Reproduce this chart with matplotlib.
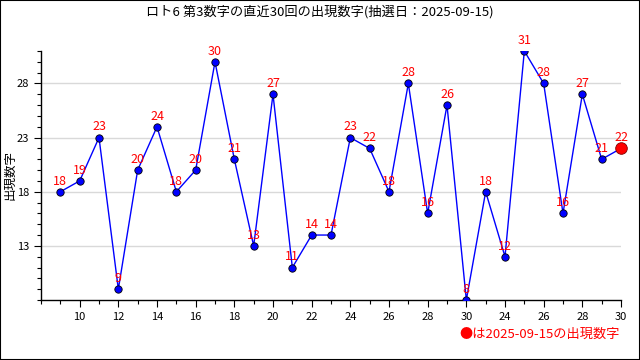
import numpy as np
import matplotlib
matplotlib.use("Agg")
import matplotlib.pyplot as plt
from matplotlib.ticker import MultipleLocator, FixedLocator

plt.rcParams['font.family'] = ['Noto Sans CJK JP', 'DejaVu Sans']

# data
values = [18, 19, 23, 9, 20, 24, 18, 20, 30, 21,
          13, 27, 11, 14, 14, 23, 22, 18, 28, 16,
          26, 8, 18, 12, 31, 28, 16, 27, 21, 22]
positions = np.arange(9, 9 + len(values))
tick_pos = [10, 12, 14, 16, 18, 20, 22, 24, 26, 28, 30, 32, 34, 36, 38]
tick_labels = ["10", "12", "14", "16", "18", "20", "22", "24", "26", "28",
               "30", "24", "26", "28", "30"]
y_major = [13, 18, 23, 28]

title = "ロト6 第3数字の直近30回の出現数字(抽選日：2025-09-15)"
ylabel = "出現数字"
note = "●は2025-09-15の出現数字"

fig = plt.figure(figsize=(6.4, 3.6), dpi=100)
# outer border
fig.patches.append(plt.Rectangle((0, 0), 1, 1, transform=fig.transFigure,
                                 fill=False, edgecolor="black", linewidth=1.5))
ax = fig.add_axes([41/640, 1 - 300/360, 580/640, 249/360])

ax.plot(positions, values, color="blue", linewidth=1, zorder=3)
ax.scatter(positions[:-1], values[:-1], s=28, color="blue",
           edgecolors="black", linewidths=0.6, zorder=4)
ax.scatter(positions[-1:], values[-1:], s=70, color="red",
           edgecolors="#800000", linewidths=0.6, zorder=5, clip_on=False)

for x, v in zip(positions, values):
    ax.annotate(str(v), (x, v), xytext=(0, 3), textcoords="offset points",
                ha="center", va="bottom", color="red", fontsize=9,
                zorder=6, annotation_clip=False)

ax.set_xlim(8, 38)
ax.set_ylim(8, 31)
ax.xaxis.set_major_locator(FixedLocator(tick_pos))
ax.set_xticklabels(tick_labels)
ax.xaxis.set_minor_locator(MultipleLocator(1))
ax.yaxis.set_major_locator(FixedLocator(y_major))
ax.yaxis.set_minor_locator(MultipleLocator(1))
ax.tick_params(axis="both", which="major", labelsize=8, length=5, width=0.8)
ax.tick_params(axis="both", which="minor", length=3, width=0.8)
ax.grid(axis="y", which="major", color="#d9d9d9", linewidth=1, zorder=0)

for s in ["top", "right"]:
    ax.spines[s].set_visible(False)
ax.spines["left"].set_linewidth(1)
ax.spines["bottom"].set_linewidth(1)

fig.text(10/640, 1 - 175/360, ylabel, rotation=90, ha="center", va="center",
         fontsize=9)
fig.text(0.5, 1 - 12/360, title, ha="center", va="center", fontsize=9.5)
fig.text(620/640, 1 - 334/360, note, ha="right", va="center",
         fontsize=9.5, color="red")

fig.savefig("out.png", dpi=100)
